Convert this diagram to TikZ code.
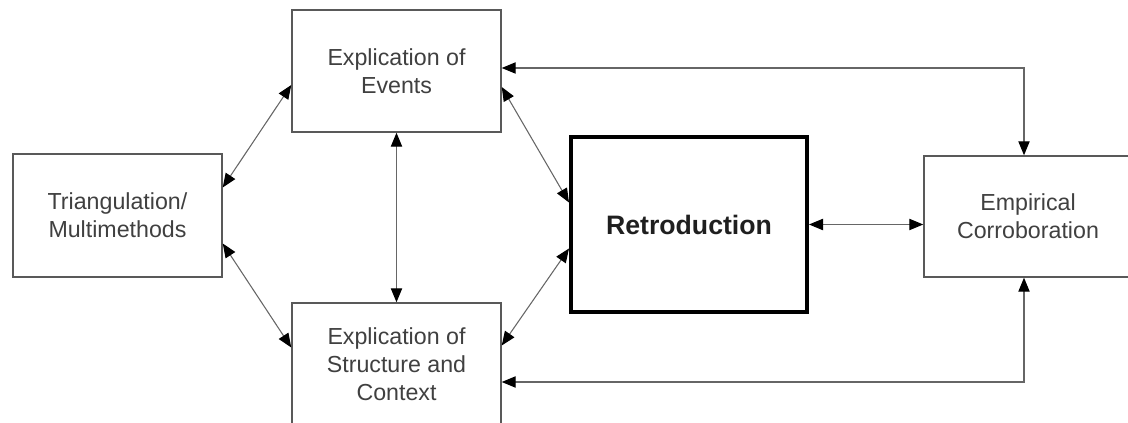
\documentclass[tikz,border=0pt]{standalone}
\usepackage{fontspec}
\setmainfont{Liberation Sans}
\usetikzlibrary{arrows.meta,calc}
\tikzset{
  box/.style={draw=black!65, line width=1.1pt, fill=white, align=center, inner sep=0pt,
    font=\fontsize{17.4}{21}\selectfont, text=black!75},
  retrobox/.style={draw=black, line width=3pt, fill=white, align=center, inner sep=0pt,
    font=\fontsize{20}{24}\selectfont\bfseries, text=black!88},
  conn/.style={draw=black!60, line width=0.8pt, {Triangle[length=10.5pt,width=8.5pt,black]}-{Triangle[length=10.5pt,width=8.5pt,black]}}
}
\begin{document}
\begin{tikzpicture}[x=0.75pt,y=-0.75pt]
\useasboundingbox (0,0) rectangle (1128,423);
\node[box, minimum width=156.75pt, minimum height=92.25pt] (tri) at (117.5,215.5) {Triangulation/\\Multimethods};
\node[box, minimum width=156.75pt, minimum height=91.5pt] (ev) at (396.5,71) {Explication of\\Events};
\node[box, minimum width=156.75pt, minimum height=92.25pt] (st) at (396.5,364.5) {Explication of\\Structure and\\Context};
\node[retrobox, minimum width=177pt, minimum height=131.25pt] (retro) at (689,224.5) {Retroduction};
\node[box, minimum width=156pt, minimum height=90.75pt] (emp) at (1028,216.5) {Empirical\\Corroboration};

\draw[conn] ($(tri.east)+(0,-28)$) -- ($(ev.west)+(0,14)$);
\draw[conn] ($(tri.east)+(0,28)$) -- ($(st.west)+(0,-17)$);
\draw[conn] ($(ev.east)+(0,16)$) -- ($(retro.west)+(0,-22)$);
\draw[conn] ($(st.east)+(0,-19)$) -- ($(retro.west)+(0,24)$);
\draw[conn] (ev.south) -- (st.north);
\draw[conn] (retro.east) -- (retro.east -| emp.west);
\draw[conn] ($(ev.east)+(0,-3)$) -| ($(emp.north)+(-4,0)$);
\draw[conn] ($(st.east)+(0,17.5)$) -| ($(emp.south)+(-4,0)$);
\end{tikzpicture}
\end{document}
